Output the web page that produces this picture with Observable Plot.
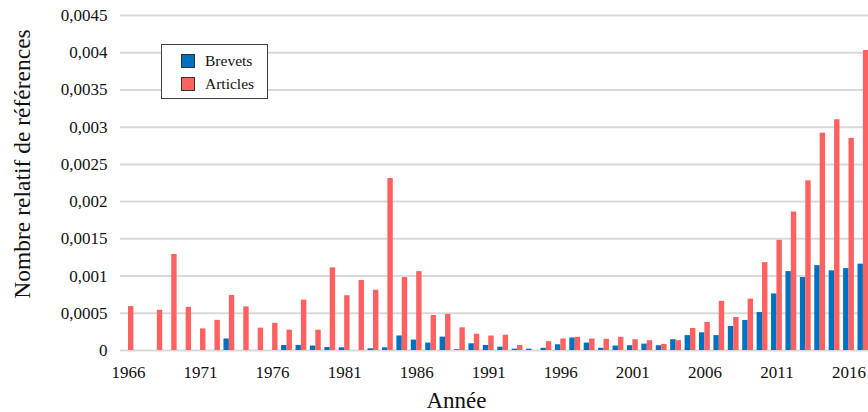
<!DOCTYPE html>
<html>
<head>
<meta charset="utf-8">
<script src="https://cdn.jsdelivr.net/npm/d3@7"></script>
<script src="https://cdn.jsdelivr.net/npm/@observablehq/plot@0.6"></script>
<style>
  html, body { margin: 0; padding: 0; background: #fff; overflow: hidden; }
  #wrap { position: relative; width: 868px; height: 412px; font-family: "Liberation Serif", "Times New Roman", serif; }
  #wrap svg text { font-family: "Liberation Serif", "Times New Roman", serif !important; }
  #legend { position: absolute; left: 161px; top: 44px; width: 105px; height: 53px; border: 1px solid #404040; background: #fff; font-size: 15.5px; color: #111; }
  #legend .row { position: absolute; left: 19px; height: 14px; display: flex; align-items: center; }
  #legend .sw { width: 12px; height: 12px; border: 1px solid #333; margin-right: 10px; }
</style>
</head>
<body>
<div id="wrap"></div>
<script>
const years = d3.range(1966, 2018);
const brevets = [
  0, 0, 0, 0, 0, 0, 0, 0.000155, 0, 0,
  0, 0.000068, 0.000068, 0.00006, 0.00004, 0.000036, 0, 0.000023, 0.000036, 0.000195,
  0.00014, 0.0001, 0.00018, 0.00001, 0.00009, 0.000068, 0.000045, 0.000018, 0.000018, 0.00003,
  0.000077, 0.000168, 0.0001, 0.00003, 0.00006, 0.000064, 0.000086, 0.000064, 0.000145, 0.0002,
  0.000238, 0.0002, 0.000323, 0.000404, 0.00051, 0.00076, 0.00106, 0.00098, 0.00114, 0.00107,
  0.0011, 0.00116
];
const articles = [
  0.00059, 0, 0.00054, 0.00129, 0.00058, 0.00029, 0.000405, 0.00074, 0.000586, 0.0003,
  0.000364, 0.000273, 0.000677, 0.000273, 0.00111, 0.000736, 0.00094, 0.00081, 0.00231, 0.00098,
  0.00106, 0.00047, 0.000486, 0.000305, 0.000218, 0.000195, 0.000205, 0.000068, 0, 0.000118,
  0.000155, 0.000177, 0.000155, 0.00015, 0.000177, 0.000145, 0.000132, 0.000082, 0.000132, 0.000296,
  0.000377, 0.00066, 0.000444, 0.00069, 0.00118, 0.00148, 0.00186, 0.00228, 0.00292, 0.0031,
  0.00285, 0.00403
];
const seriesNames = ["Brevets", "Articles"];
const seriesColors = ["#0070C0", "#FF6161"];
const yTicks = [0, 0.0005, 0.001, 0.0015, 0.002, 0.0025, 0.003, 0.0035, 0.004, 0.0045];
const yTickLabels = ["0", "0,0005", "0,001", "0,0015", "0,002", "0,0025", "0,003", "0,0035", "0,004", "0,0045"];
const xTicks = [1966, 1971, 1976, 1981, 1986, 1991, 1996, 2001, 2006, 2011, 2016];

const serif = "Liberation Serif";
const half = 0.375;
const dataB = years.map((y, i) => ({year: y, value: brevets[i]}));
const dataA = years.map((y, i) => ({year: y, value: articles[i]}));

const chart = Plot.plot({
  width: 868,
  height: 412,
  marginLeft: 120,
  marginRight: 0,
  marginTop: 15,
  marginBottom: 62,
  style: {fontFamily: serif, fontSize: "17px", color: "#000", background: "#fff", overflow: "hidden"},
  x: {type: "linear", domain: [1965.445, 2017.353], range: [120, 868]},
  y: {domain: [0, 0.0045]},
  marks: [
    Plot.ruleY(yTicks, {stroke: "#d9d9d9", strokeWidth: 2}),
    Plot.rectY(dataB, {x1: d => d.year - half, x2: d => d.year, y1: 0, y2: "value", fill: seriesColors[0], inset: 0}),
    Plot.rectY(dataA, {x1: d => d.year, x2: d => d.year + half, y1: 0, y2: "value", fill: seriesColors[1], inset: 0}),
    Plot.axisY({ticks: yTicks, tickFormat: d => yTickLabels[yTicks.indexOf(d)], tickSize: 0, tickPadding: 13, label: null, fontSize: 17, fontFamily: serif, fontVariant: "normal", fill: "#111"}),
    Plot.axisX({ticks: xTicks, tickFormat: d => String(d), tickSize: 0, tickPadding: 15, label: null, fontSize: 17, fontFamily: serif, fontVariant: "normal", fill: "#111"}),
    Plot.text(["Année"], {frameAnchor: "bottom", textAnchor: "middle", lineAnchor: "middle", dx: -38, dy: 50, fontSize: 23, fontFamily: serif, fill: "#111"}),
    Plot.text(["Nombre relatif de références"], {frameAnchor: "left", textAnchor: "middle", lineAnchor: "middle", rotate: -90, dx: -98, dy: -19, fontSize: 23.5, fontFamily: serif, fill: "#111"})
  ]
});

const wrap = document.getElementById("wrap");
wrap.appendChild(chart);

const legend = document.createElement("div");
legend.id = "legend";
seriesNames.forEach((name, i) => {
  const row = document.createElement("div");
  row.className = "row";
  row.style.top = (9 + i * 23) + "px";
  const sw = document.createElement("div");
  sw.className = "sw";
  sw.style.background = seriesColors[i];
  const label = document.createElement("span");
  label.textContent = name;
  row.appendChild(sw);
  row.appendChild(label);
  legend.appendChild(row);
});
wrap.appendChild(legend);
</script>
</body>
</html>
